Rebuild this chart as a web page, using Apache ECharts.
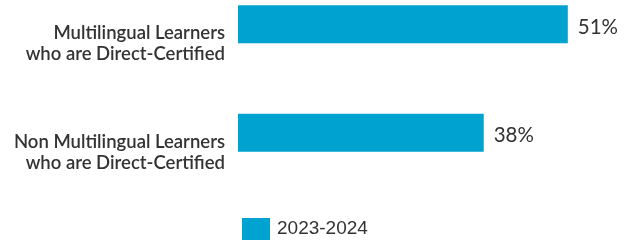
<!DOCTYPE html>
<html style="height: 100%">
<head>
  <meta charset="utf-8">
  <script src="https://cdn.jsdelivr.net/npm/echarts@6/dist/echarts.min.js"></script>
</head>
<body style="height: 100%; margin: 0; background: #fff">
  <div id="container" style="width: 628px; height: 243px"></div>
  <script type="text/javascript">
    var categories = ['Multilingual Learners\nwho are Direct-Certified', 'Non Multilingual Learners\nwho are Direct-Certified'];
    var seriesName = '2023-2024';
    var values = [51, 38];
    // empty slot that pushes the real bar to the top of its band
    var spacerValues = [null, null];

    var myChart = echarts.init(document.getElementById('container'));

    var option = {
      animation: false,
      grid: {
        left: 238,
        right: 2,
        top: 0,
        bottom: 26
      },
      legend: {
        data: [seriesName],
        left: 242,
        top: 218,
        padding: 0,
        itemWidth: 28,
        itemHeight: 22,
        itemGap: 10,
        icon: 'rect',
        textStyle: {
          fontFamily: 'Liberation Sans',
          fontSize: 19,
          color: '#333',
          padding: [0, 0, 0, 2]
        }
      },
      xAxis: {
        type: 'value',
        min: 0,
        max: 60,
        show: false
      },
      yAxis: {
        type: 'category',
        inverse: true,
        data: categories,
        axisLine: { show: false },
        axisTick: { show: false },
        axisLabel: {
          margin: 13,
          align: 'right',
          verticalAlign: 'middle',
          lineHeight: 21,
          fontFamily: 'Lato',
          fontWeight: 600,
          fontSize: 18.5,
          color: '#333',
          // blank third line lifts the two text lines above the band centre
          formatter: function (v) { return v + '\n '; }
        }
      },
      series: [{
        name: seriesName,
        type: 'bar',
        data: values,
        barWidth: 38,
        barGap: '58%',
        itemStyle: { color: '#00A3CF' },
        label: {
          show: true,
          position: 'right',
          distance: 10,
          offset: [0, 3],
          formatter: '{c}%',
          fontFamily: 'Lato',
          fontSize: 20.5,
          color: '#333'
        }
      }, {
        name: 'spacer',
        type: 'bar',
        data: spacerValues,
        barWidth: 38,
        silent: true
      }]
    };

    myChart.setOption(option);
  </script>
</body>
</html>
